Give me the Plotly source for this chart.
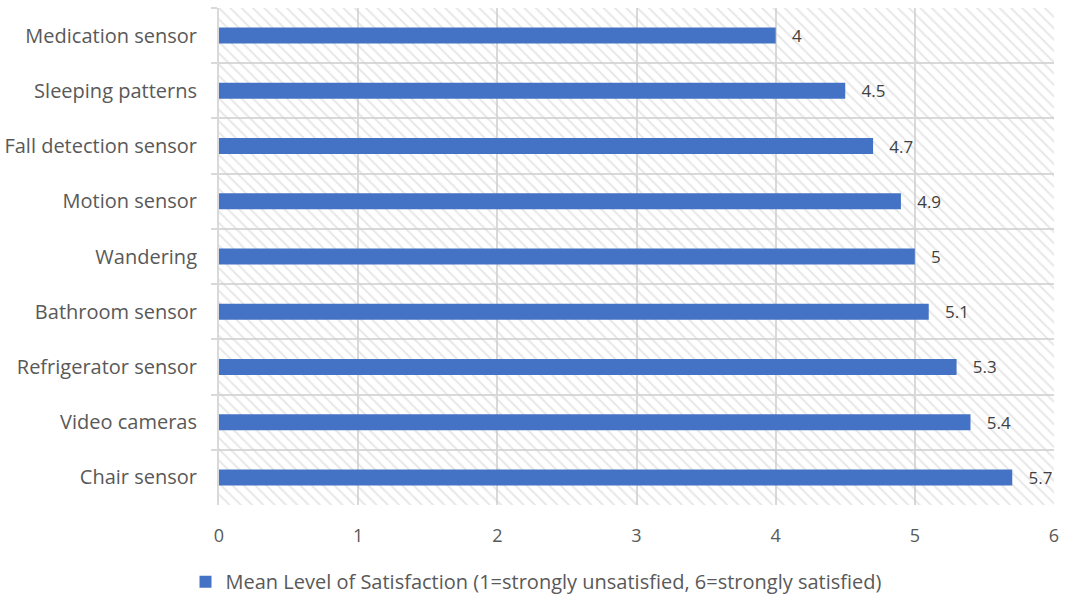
import plotly.graph_objects as go

# Sensor categories, listed top to bottom
categories = [
    "Medication sensor",
    "Sleeping patterns",
    "Fall detection sensor",
    "Motion sensor",
    "Wandering",
    "Bathroom sensor",
    "Refrigerator sensor",
    "Video cameras",
    "Chair sensor",
]
satisfaction = [4, 4.5, 4.7, 4.9, 5, 5.1, 5.3, 5.4, 5.7]
x_ticks = [0, 1, 2, 3, 4, 5, 6]
x_max = 6

series_name = "Mean Level of Satisfaction (1=strongly unsatisfied, 6=strongly satisfied)"
font_family = "'Open Sans', Lato, sans-serif"
text_color = "#595959"
grid_color = "#d9d9d9"
NBSP = "\u00a0"

fig = go.Figure()

# Hatched plot-area background, one full-width band per category
fig.add_trace(go.Bar(
    y=categories,
    x=[x_max] * len(categories),
    orientation="h",
    width=1,
    marker=dict(
        color="rgba(0,0,0,0)",
        line=dict(width=0),
        pattern=dict(shape="\\", fgcolor="#cfcfcf", bgcolor="rgba(0,0,0,0)",
                     size=8, solidity=0.24),
    ),
    hoverinfo="skip",
    showlegend=False,
))

fig.add_trace(go.Bar(
    y=categories,
    x=satisfaction,
    orientation="h",
    width=0.29,
    name=series_name,
    marker=dict(color="#4472C4", line=dict(width=0)),
    text=[NBSP * 3 + f"{v:g}" for v in satisfaction],
    textposition="outside",
    constraintext="none",
    textfont=dict(family=font_family, size=17, color="#404040"),
    cliponaxis=False,
))

fig.update_layout(
    width=1073,
    height=601,
    margin=dict(l=219, r=19, t=8, b=96, autoexpand=False),
    barmode="overlay",
    plot_bgcolor="white",
    paper_bgcolor="white",
    font=dict(family=font_family, size=20, color=text_color),
    showlegend=True,
    legend=dict(
        orientation="h",
        xref="container",
        x=0.5, xanchor="center",
        y=-0.115, yanchor="top",
        font=dict(family=font_family, size=20, color=text_color),
        itemwidth=30,
    ),
    xaxis=dict(
        range=[0, x_max],
        tickvals=x_ticks,
        showgrid=True,
        gridcolor=grid_color,
        gridwidth=2,
        zeroline=False,
        showline=False,
        ticks="",
        ticklabelstandoff=18,
        tickfont=dict(size=18, color=text_color),
        fixedrange=True,
    ),
    yaxis=dict(
        type="category",
        autorange="reversed",
        tickson="boundaries",
        showgrid=True,
        gridcolor=grid_color,
        gridwidth=2,
        showline=True,
        linecolor=grid_color,
        linewidth=2,
        ticks="outside",
        ticklen=6,
        tickcolor=grid_color,
        tickwidth=2,
        ticklabelstandoff=16,
        tickfont=dict(size=20, color=text_color),
        fixedrange=True,
    ),
)

fig.write_html("out.html")
